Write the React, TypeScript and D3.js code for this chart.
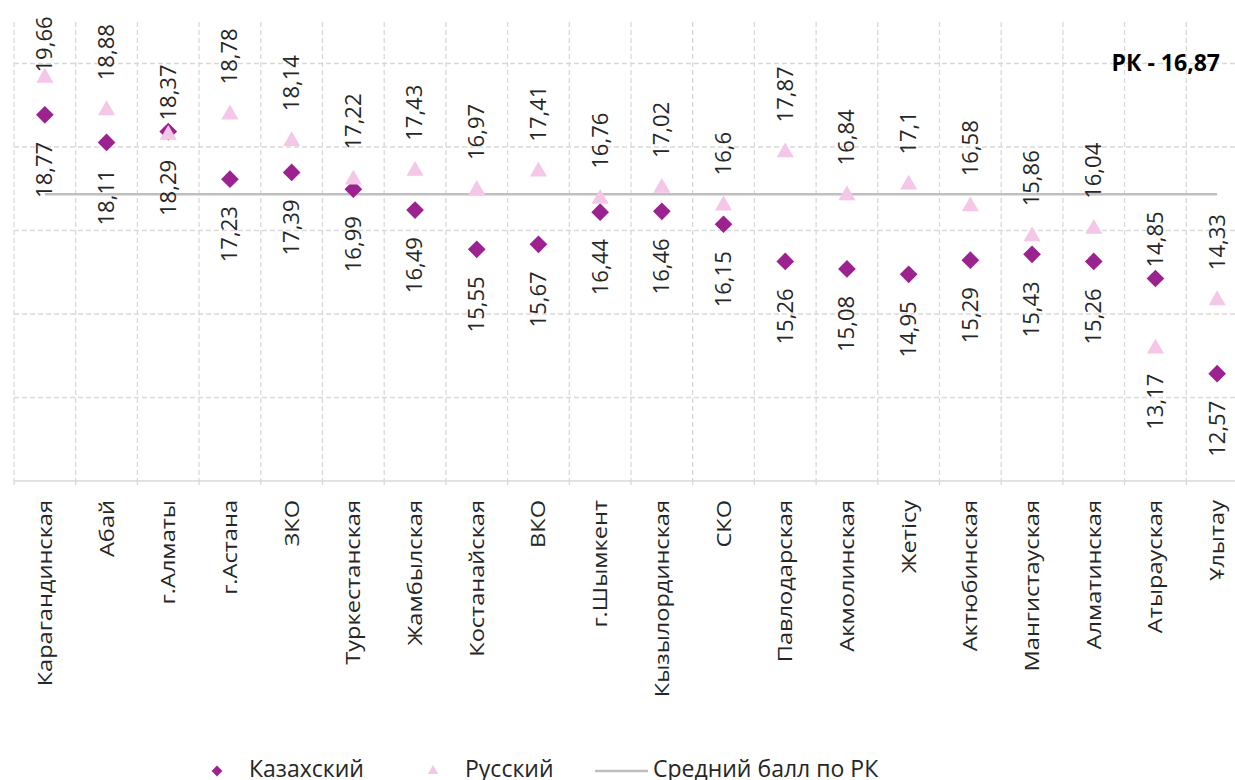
import React from 'react';
import * as d3 from 'd3';

// regions, in chart order
const regions = [
  'Карагандинская', 'Абай', 'г.Алматы', 'г.Астана', 'ЗКО', 'Туркестанская',
  'Жамбылская', 'Костанайская', 'ВКО', 'г.Шымкент', 'Кызылординская', 'СКО',
  'Павлодарская', 'Акмолинская', 'Жетісу', 'Актюбинская', 'Мангистауская',
  'Алматинская', 'Атырауская', 'Ұлытау',
];

const kazakh = [
  18.77, 18.11, 18.37, 17.23, 17.39, 16.99, 16.49, 15.55, 15.67, 16.44,
  16.46, 16.15, 15.26, 15.08, 14.95, 15.29, 15.43, 15.26, 14.85, 12.57,
];

const russian = [
  19.66, 18.88, 18.29, 18.78, 18.14, 17.22, 17.43, 16.97, 17.41, 16.76,
  17.02, 16.6, 17.87, 16.84, 17.1, 16.58, 15.86, 16.04, 13.17, 14.33,
];

const avgScore = 16.87;
const yTicks = [12, 14, 16, 18, 20];

const W = 1235;
const H = 780;
const FONT = '"Open Sans", "Noto Sans", sans-serif';
const KAZ_COLOR = '#9c228f';
const RUS_COLOR = '#f4c6e8';
const GRID = '#d9d9d9';
const TEXT = '#262626';

const fmt = (v: number) => String(v).replace('.', ',');

const App: React.FC = () => {
  const plot = { left: 14, right: 1248, top: 22, bottom: 481 };

  const x = d3.scaleBand<string>().domain(regions).range([plot.left, plot.right]).padding(0);
  const y = d3.scaleLinear().domain([10, 21]).range([plot.bottom, plot.bottom - 11 * 41.75]);
  const cx = (r: string) => (x(r) ?? 0) + x.bandwidth() / 2;

  const diamond = d3.symbol().type(d3.symbolDiamond2).size(200)();
  const triangle = d3.symbol().type(d3.symbolTriangle2).size(210)();
  const smallDiamond = d3.symbol().type(d3.symbolDiamond2).size(75)();
  const smallTriangle = d3.symbol().type(d3.symbolTriangle2).size(80)();

  // data label: higher point gets the label above, lower one below
  const label = (r: string, v: number, other: number, isKaz: boolean) => {
    const py = y(v);
    const above = v >= other;
    let textY: number;
    let anchor: 'start' | 'end';
    if (above) {
      const gap = isKaz ? 11 : 30;
      textY = py - gap;
      anchor = 'start';
      // keep inside the chart top
      const approxLen = fmt(v).length * 11.5;
      if (textY - approxLen < 15) textY = 15 + approxLen;
    } else {
      textY = py + (isKaz ? 27 : 25);
      anchor = 'end';
    }
    return (
      <text
        key={`${r}-${isKaz ? 'k' : 'r'}`}
        transform={`translate(${cx(r)},${textY}) rotate(-90) scale(1.05,1)`}
        textAnchor={anchor}
        dy="0.35em"
        fontSize={21}
        fill={TEXT}
      >
        {fmt(v)}
      </text>
    );
  };

  return (
    <svg
      width={W}
      height={H}
      style={{ position: 'absolute', left: 0, top: 0, background: '#fff' }}
      fontFamily={FONT}
    >
      {/* grid */}
      {yTicks.map((t) => (
        <line key={`h${t}`} x1={plot.left} x2={plot.right} y1={y(t)} y2={y(t)}
          stroke={GRID} strokeWidth={1.3} strokeDasharray="5,3" />
      ))}
      {regions.map((r) => (
        <line key={`v${r}`} x1={x(r)} x2={x(r)} y1={plot.top} y2={plot.bottom}
          stroke={GRID} strokeWidth={1.3} strokeDasharray="5,3" />
      ))}
      <line x1={plot.right} x2={plot.right} y1={plot.top} y2={plot.bottom}
        stroke={GRID} strokeWidth={1.3} strokeDasharray="5,3" />

      {/* category axis */}
      <line x1={plot.left} x2={plot.right} y1={plot.bottom} y2={plot.bottom} stroke={GRID} strokeWidth={1.5} />
      {regions.map((r) => (
        <line key={`t${r}`} x1={x(r)} x2={x(r)} y1={plot.bottom} y2={plot.bottom + 4} stroke={GRID} strokeWidth={1.3} />
      ))}
      {regions.map((r) => (
        <text key={`c${r}`} transform={`translate(${cx(r)},500) rotate(-90) scale(1.18,1)`}
          textAnchor="end" dy="0.35em" fontSize={20} fill={TEXT}>
          {r}
        </text>
      ))}

      {/* average line */}
      <line x1={cx(regions[0])} x2={cx(regions[regions.length - 1])} y1={y(avgScore)} y2={y(avgScore)}
        stroke="#bfbfbf" strokeWidth={2.5} />

      {/* markers */}
      {regions.map((r, i) => (
        <path key={`k${r}`} d={diamond ?? ''} transform={`translate(${cx(r)},${y(kazakh[i])})`} fill={KAZ_COLOR} />
      ))}
      {regions.map((r, i) => (
        <path key={`r${r}`} d={triangle ?? ''} transform={`translate(${cx(r)},${y(russian[i])})`} fill={RUS_COLOR} />
      ))}

      {/* data labels */}
      {regions.map((r, i) => label(r, kazakh[i], russian[i], true))}
      {regions.map((r, i) => label(r, russian[i], kazakh[i], false))}

      <text x={1220} y={71} textAnchor="end" fontSize={23} fontWeight="bold" fill="#000">
        РК - {fmt(avgScore)}
      </text>

      {/* legend */}
      <g fontSize={23} fill={TEXT}>
        <path d={smallDiamond ?? ''} transform="translate(217,771)" fill={KAZ_COLOR} />
        <text x={249} y={777}>Казахский</text>
        <path d={smallTriangle ?? ''} transform="translate(433,771)" fill={RUS_COLOR} />
        <text x={465} y={777}>Русский</text>
        <line x1={595} x2={648} y1={771} y2={771} stroke="#bfbfbf" strokeWidth={2.5} />
        <text x={653} y={777}>Средний балл по РК</text>
      </g>
    </svg>
  );
};

export default App;
